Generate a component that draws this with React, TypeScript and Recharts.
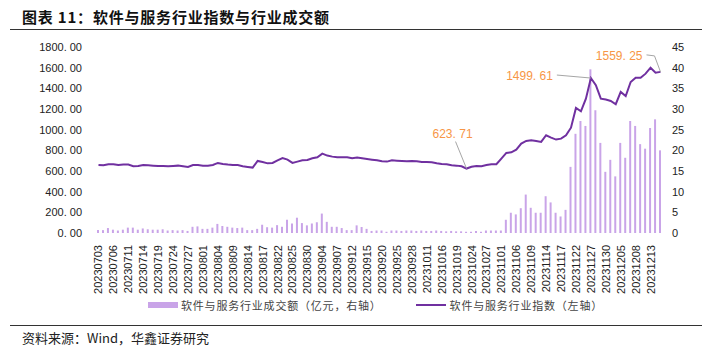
import React from 'react';
import {
  Bar,
  ComposedChart,
  LabelList,
  Line,
  XAxis,
  YAxis,
} from 'recharts';

// trading days shown on the category axis
const dates = [
  '20230703', '20230704', '20230705', '20230706', '20230707', '20230710', '20230711', '20230712',
  '20230713', '20230714', '20230717', '20230718', '20230719', '20230720', '20230721', '20230724',
  '20230725', '20230726', '20230727', '20230728', '20230731', '20230801', '20230802', '20230803',
  '20230804', '20230807', '20230808', '20230809', '20230810', '20230811', '20230814', '20230815',
  '20230816', '20230817', '20230818', '20230821', '20230822', '20230823', '20230824', '20230825',
  '20230828', '20230829', '20230830', '20230831', '20230901', '20230904', '20230905', '20230906',
  '20230907', '20230908', '20230911', '20230912', '20230913', '20230914', '20230915', '20230918',
  '20230919', '20230920', '20230921', '20230922', '20230925', '20230926', '20230927', '20230928',
  '20231009', '20231010', '20231011', '20231012', '20231013', '20231016', '20231017', '20231018',
  '20231019', '20231020', '20231023', '20231024', '20231025', '20231026', '20231027', '20231030',
  '20231031', '20231101', '20231102', '20231103', '20231106', '20231107', '20231108', '20231109',
  '20231110', '20231113', '20231114', '20231115', '20231116', '20231117', '20231120', '20231121',
  '20231122', '20231123', '20231124', '20231127', '20231128', '20231129', '20231130', '20231201',
  '20231204', '20231205', '20231206', '20231207', '20231208', '20231211', '20231212', '20231213',
  '20231214', '20231215',
];

// 软件与服务行业指数（左轴）
const indexValues = [
  658, 655, 665, 665, 658, 662, 662, 646, 649, 658, 655, 652, 649, 649, 646, 649,
  652, 646, 639, 658, 658, 652, 652, 658, 678, 668, 662, 658, 658, 646, 639, 633,
  697, 687, 674, 678, 703, 726, 710, 678, 691, 703, 707, 723, 733, 768, 749, 739,
  733, 733, 733, 723, 730, 723, 716, 710, 703, 694, 691, 703, 700, 697, 694, 697,
  694, 687, 687, 684, 674, 668, 665, 655, 652, 646, 623.71, 641, 649, 646, 658, 665,
  665, 720, 775, 781, 807, 865, 891, 897, 891, 881, 946, 923, 904, 913, 946, 1019,
  1210, 1178, 1300, 1499.61, 1430, 1300, 1291, 1278, 1246, 1365, 1326, 1461, 1503, 1503, 1542, 1600,
  1552, 1559.25,
];

// 软件与服务行业成交额（亿元，右轴）
const turnover = [
  0.7, 0.7, 1.2, 0.8, 0.6, 0.8, 1.3, 1.3, 0.8, 1.1, 0.9, 0.8, 0.8, 0.9, 0.6, 0.7,
  0.6, 0.7, 0.5, 1.5, 1.6, 1.0, 1.0, 1.3, 2.2, 1.7, 1.5, 1.3, 1.2, 1.3, 0.7, 0.7,
  1.0, 2.0, 1.4, 1.3, 1.9, 1.5, 3.2, 2.3, 3.7, 2.4, 1.85, 2.3, 2.6, 4.7, 2.7, 1.5,
  1.5, 1.2, 0.7, 0.7, 1.85, 1.45, 1.0, 0.5, 0.6, 0.6, 0.3, 0.6, 0.6, 0.5, 0.6, 0.6,
  0.5, 0.6, 0.5, 0.5, 0.6, 0.5, 0.4, 0.5, 0.4, 0.4, 0.3, 0.3, 0.5, 0.3, 0.6, 0.6,
  0.6, 0.6, 3.2, 4.9, 4.5, 6.0, 9.3, 6.1, 4.9, 4.9, 8.9, 7.4, 4.9, 4.0, 5.6, 16.0,
  24.0, 27.1, 25.9, 39.6, 29.7, 21.8, 14.8, 17.7, 13.7, 21.8, 18.2, 27.1, 25.9, 21.5, 20.4, 25.4,
  27.5, 20.0,
];

const leftTicks = [0, 200, 400, 600, 800, 1000, 1200, 1400, 1600, 1800];
const rightTicks = [0, 5, 10, 15, 20, 25, 30, 35, 40, 45];

const LINE_COLOR = '#7030A0';
const BAR_COLOR = '#C9A4E8';
const NOTE_COLOR = '#F79646';
const LEADER = '#A6A6A6';
const TICK_FONT = '"Liberation Sans", Arial, sans-serif';
const CJK_FONT = '"Noto Sans CJK SC", "Noto Sans", sans-serif';

const data = dates.map((d, i) => ({
  date: d,
  idx: indexValues[i],
  amt: turnover[i],
}));

const minIdx = indexValues.indexOf(Math.min(...indexValues));
const peakIdx = dates.indexOf('20231127');
const lastIdx = dates.length - 1;

function DateTick(props: any) {
  const { x, y, payload } = props;
  return (
    <text
      x={0}
      y={0}
      transform={`translate(${x + 4},${y + 4}) rotate(-90)`}
      textAnchor="end"
      fontSize={11}
      fontFamily={TICK_FONT}
      fill="#222"
    >
      {payload.value}
    </text>
  );
}

function Note(props: any) {
  const { x, y, index, value } = props;
  if (x == null || y == null) return null;
  const txt = Number(value).toFixed(2).replace('.', '. ');
  const common = { fontSize: 12, fontFamily: TICK_FONT, fill: NOTE_COLOR };
  if (index === minIdx) {
    return (
      <g>
        <polyline points={`${x - 11},${y - 27} ${x},${y}`} stroke={LEADER} fill="none" />
        <text x={x - 14} y={y - 31} textAnchor="middle" {...common}>{txt}</text>
      </g>
    );
  }
  if (index === peakIdx) {
    return (
      <g>
        <polyline points={`${x - 34},${y - 3} ${x},${y}`} stroke={LEADER} fill="none" />
        <text x={x - 38} y={y + 2} textAnchor="end" {...common}>{txt}</text>
      </g>
    );
  }
  if (index === lastIdx) {
    return (
      <g>
        <polyline
          points={`${x - 14},${y - 17} ${x - 6},${y - 16} ${x},${y}`}
          stroke={LEADER}
          fill="none"
        />
        <text x={x - 18} y={y - 12} textAnchor="end" {...common}>{txt}</text>
      </g>
    );
  }
  return null;
}

export default function App() {
  return (
    <div
      style={{
        position: 'absolute',
        left: 0,
        top: 0,
        width: 711,
        height: 351,
        background: '#fff',
        overflow: 'hidden',
      }}
    >
      <div
        style={{
          position: 'absolute',
          left: 22,
          top: 6,
          fontFamily: CJK_FONT,
          fontWeight: 700,
          fontSize: 15,
          letterSpacing: 0.8,
          color: '#111',
          whiteSpace: 'nowrap',
        }}
      >
        图表 11：软件与服务行业指数与行业成交额
      </div>
      <div style={{ position: 'absolute', left: 10, top: 29, width: 692, height: 1, background: '#333' }} />

      <div style={{ position: 'absolute', left: 0, top: 0 }}>
        <ComposedChart
          width={711}
          height={300}
          data={data}
          margin={{ top: 47, right: 8, left: 0, bottom: 7 }}
        >
          <XAxis
            dataKey="date"
            interval={2}
            tick={<DateTick />}
            tickLine={false}
            axisLine={false}
            height={60}
          />
          <YAxis
            yAxisId="left"
            domain={[0, 1800]}
            ticks={leftTicks}
            width={96}
            tickLine={false}
            axisLine={false}
            tickMargin={8}
            tickFormatter={(v: number) => v.toFixed(2).replace('.', '. ')}
            tick={{ fontSize: 11, fontFamily: TICK_FONT, fill: '#222' }}
          />
          <YAxis
            yAxisId="right"
            orientation="right"
            domain={[0, 45]}
            ticks={rightTicks}
            width={40}
            tickLine={false}
            axisLine={false}
            tickMargin={3}
            tick={{ fontSize: 11, fontFamily: TICK_FONT, fill: '#222' }}
          />
          <Bar
            yAxisId="right"
            dataKey="amt"
            fill={BAR_COLOR}
            barSize={2}
            isAnimationActive={false}
          />
          <Line
            yAxisId="left"
            dataKey="idx"
            stroke={LINE_COLOR}
            strokeWidth={2}
            dot={false}
            isAnimationActive={false}
          >
            <LabelList dataKey="idx" content={<Note />} />
          </Line>
        </ComposedChart>
      </div>

      {/* legend */}
      <div
        style={{
          position: 'absolute',
          top: 297,
          left: 148,
          display: 'flex',
          alignItems: 'center',
          fontFamily: CJK_FONT,
          fontSize: 11,
          letterSpacing: 0.8,
          color: '#444',
          whiteSpace: 'nowrap',
        }}
      >
        <span style={{ width: 30, height: 6, background: BAR_COLOR, marginRight: 3 }} />
        <span>软件与服务行业成交额（亿元，右轴）</span>
        <span style={{ width: 30, height: 2, background: LINE_COLOR, marginLeft: 34, marginRight: 4 }} />
        <span>软件与服务行业指数（左轴）</span>
      </div>

      <div style={{ position: 'absolute', left: 10, top: 325, width: 692, height: 1, background: '#333' }} />
      <div
        style={{
          position: 'absolute',
          left: 22,
          top: 328,
          fontFamily: CJK_FONT,
          fontSize: 13,
          color: '#222',
          whiteSpace: 'nowrap',
        }}
      >
        资料来源：Wind，华鑫证券研究
      </div>
    </div>
  );
}
